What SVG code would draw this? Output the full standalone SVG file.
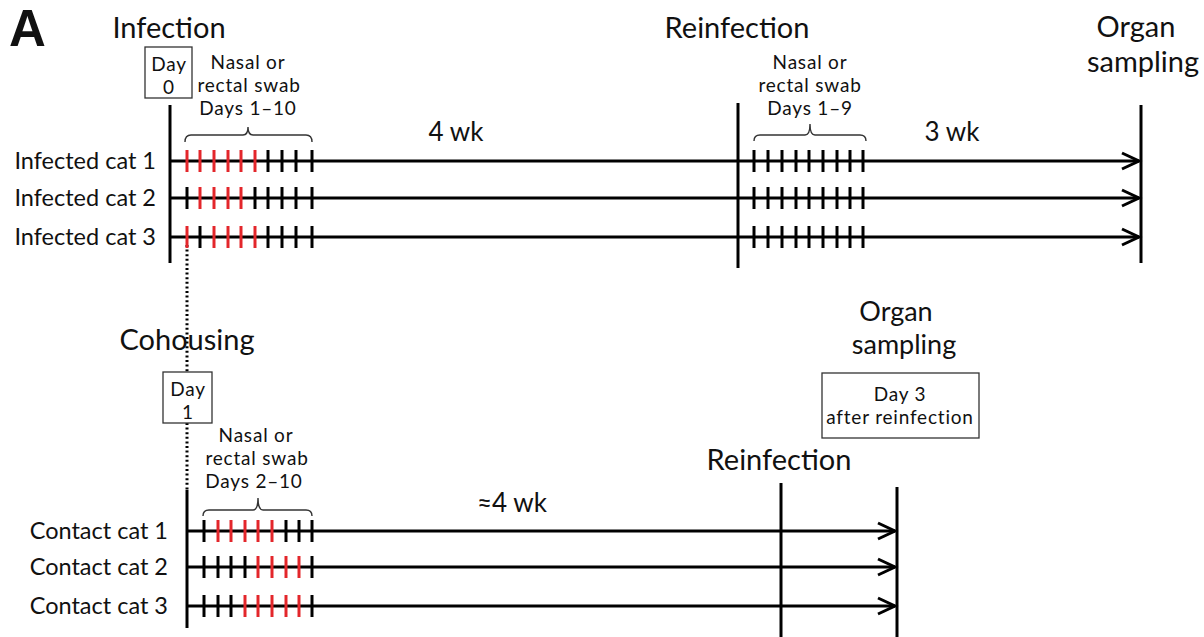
<svg xmlns="http://www.w3.org/2000/svg" width="1204" height="637" viewBox="0 0 1204 637">
<defs>
<style>
text{font-family:Lato,"Liberation Sans",sans-serif;fill:#111}
.big{font-size:29px}
.med{font-size:23.5px}
.sm{font-size:19px;letter-spacing:0.8px}
.wk{font-size:26px}
.c{text-anchor:middle}
.r{text-anchor:end}
.ln{stroke:#000;stroke-width:3;fill:none}
.tk{stroke:#000;stroke-width:3}
.rd{stroke:#e3262b;stroke-width:3}
.br{stroke:#333;stroke-width:1.4;fill:none}
.box{fill:#fff;stroke:#333;stroke-width:1.3}
.dot{stroke:#000;stroke-width:3;stroke-dasharray:2 2.6;fill:none}
</style>
<marker id="arr" markerUnits="userSpaceOnUse" markerWidth="24" markerHeight="22" refX="19" refY="10" orient="auto">
<path d="M2,2 L19,10 L2,18" fill="none" stroke="#000" stroke-width="3"/>
</marker>
</defs>
<rect width="1204" height="637" fill="#fff"/>
<text x="9" y="46" style="font-family:'Liberation Sans',Arial,sans-serif;font-weight:bold;font-size:51px">A</text>

<g id="connectors">
<line class="dot" x1="187" y1="245" x2="187" y2="372"/>
<line class="dot" x1="187" y1="423" x2="187" y2="490"/>
<line class="ln" x1="170" y1="161" x2="1139" y2="161" marker-end="url(#arr)"/>
<line class="ln" x1="170" y1="198" x2="1139" y2="198" marker-end="url(#arr)"/>
<line class="ln" x1="170" y1="237" x2="1139" y2="237" marker-end="url(#arr)"/>
<line class="ln" x1="187" y1="531" x2="895" y2="531" marker-end="url(#arr)"/>
<line class="ln" x1="187" y1="567" x2="895" y2="567" marker-end="url(#arr)"/>
<line class="ln" x1="187" y1="606" x2="895" y2="606" marker-end="url(#arr)"/>
</g>

<g id="infection">
<text class="big c" x="169" y="38">Infection</text>
<rect class="box" x="145" y="47" width="47" height="51"/>
<text class="sm c" x="169" y="71">Day</text>
<text class="sm c" x="169" y="94">0</text>
<line class="ln" x1="170" y1="105" x2="170" y2="263"/>
</g>

<g id="swab1">
<text class="sm c" x="248" y="69">Nasal or</text>
<text class="sm c" x="249" y="92">rectal swab</text>
<text class="sm c" x="248" y="115">Days 1–10</text>
<path class="br" d="M185,142 Q185,135 191,135 H243 Q248,135 248,127 Q248,135 253,135 H306 Q312,135 312,142"/>
</g>

<g id="infected-labels">
<text class="med r" x="156" y="169">Infected cat 1</text>
<text class="med r" x="156" y="206">Infected cat 2</text>
<text class="med r" x="156" y="245">Infected cat 3</text>
</g>

<g id="ticks-infected">
<g transform="translate(0,161)">
<line class="rd" x1="187" y1="-11" x2="187" y2="11"/>
<line class="rd" x1="200" y1="-11" x2="200" y2="11"/>
<line class="rd" x1="214" y1="-11" x2="214" y2="11"/>
<line class="rd" x1="228" y1="-11" x2="228" y2="11"/>
<line class="rd" x1="241" y1="-11" x2="241" y2="11"/>
<line class="rd" x1="255" y1="-11" x2="255" y2="11"/>
<line class="tk" x1="268" y1="-11" x2="268" y2="11"/>
<line class="tk" x1="282" y1="-11" x2="282" y2="11"/>
<line class="tk" x1="296" y1="-11" x2="296" y2="11"/>
<line class="tk" x1="312" y1="-11" x2="312" y2="11"/>
</g>
<g transform="translate(0,198)">
<line class="tk" x1="187" y1="-11" x2="187" y2="11"/>
<line class="rd" x1="200" y1="-11" x2="200" y2="11"/>
<line class="rd" x1="214" y1="-11" x2="214" y2="11"/>
<line class="rd" x1="228" y1="-11" x2="228" y2="11"/>
<line class="rd" x1="241" y1="-11" x2="241" y2="11"/>
<line class="tk" x1="255" y1="-11" x2="255" y2="11"/>
<line class="tk" x1="268" y1="-11" x2="268" y2="11"/>
<line class="tk" x1="282" y1="-11" x2="282" y2="11"/>
<line class="tk" x1="296" y1="-11" x2="296" y2="11"/>
<line class="tk" x1="312" y1="-11" x2="312" y2="11"/>
</g>
<g transform="translate(0,237)">
<line class="rd" x1="187" y1="-11" x2="187" y2="11"/>
<line class="tk" x1="200" y1="-11" x2="200" y2="11"/>
<line class="rd" x1="214" y1="-11" x2="214" y2="11"/>
<line class="rd" x1="228" y1="-11" x2="228" y2="11"/>
<line class="rd" x1="241" y1="-11" x2="241" y2="11"/>
<line class="rd" x1="255" y1="-11" x2="255" y2="11"/>
<line class="tk" x1="268" y1="-11" x2="268" y2="11"/>
<line class="tk" x1="282" y1="-11" x2="282" y2="11"/>
<line class="tk" x1="296" y1="-11" x2="296" y2="11"/>
<line class="tk" x1="312" y1="-11" x2="312" y2="11"/>
</g>
</g>

<text class="wk c" x="456" y="141">4 wk</text>

<g id="reinfection-top">
<text class="big c" x="737" y="38">Reinfection</text>
<line class="ln" x1="738" y1="103" x2="738" y2="268"/>
<text class="sm c" x="810" y="69">Nasal or</text>
<text class="sm c" x="810" y="92">rectal swab</text>
<text class="sm c" x="810" y="115">Days 1–9</text>
<path class="br" d="M754,141 Q754,135 760,135 H805 Q810,135 810,124 Q810,135 815,135 H860 Q866,135 866,141"/>
</g>

<g id="ticks-reinf">
<g transform="translate(0,161)">
<line class="tk" x1="754" y1="-11" x2="754" y2="11"/><line class="tk" x1="768" y1="-11" x2="768" y2="11"/><line class="tk" x1="782" y1="-11" x2="782" y2="11"/><line class="tk" x1="796" y1="-11" x2="796" y2="11"/><line class="tk" x1="809" y1="-11" x2="809" y2="11"/><line class="tk" x1="823" y1="-11" x2="823" y2="11"/><line class="tk" x1="837" y1="-11" x2="837" y2="11"/><line class="tk" x1="850" y1="-11" x2="850" y2="11"/><line class="tk" x1="863" y1="-11" x2="863" y2="11"/>
</g>
<g transform="translate(0,198)">
<line class="tk" x1="754" y1="-11" x2="754" y2="11"/><line class="tk" x1="768" y1="-11" x2="768" y2="11"/><line class="tk" x1="782" y1="-11" x2="782" y2="11"/><line class="tk" x1="796" y1="-11" x2="796" y2="11"/><line class="tk" x1="809" y1="-11" x2="809" y2="11"/><line class="tk" x1="823" y1="-11" x2="823" y2="11"/><line class="tk" x1="837" y1="-11" x2="837" y2="11"/><line class="tk" x1="850" y1="-11" x2="850" y2="11"/><line class="tk" x1="863" y1="-11" x2="863" y2="11"/>
</g>
<g transform="translate(0,237)">
<line class="tk" x1="754" y1="-11" x2="754" y2="11"/><line class="tk" x1="768" y1="-11" x2="768" y2="11"/><line class="tk" x1="782" y1="-11" x2="782" y2="11"/><line class="tk" x1="796" y1="-11" x2="796" y2="11"/><line class="tk" x1="809" y1="-11" x2="809" y2="11"/><line class="tk" x1="823" y1="-11" x2="823" y2="11"/><line class="tk" x1="837" y1="-11" x2="837" y2="11"/><line class="tk" x1="850" y1="-11" x2="850" y2="11"/><line class="tk" x1="863" y1="-11" x2="863" y2="11"/>
</g>
</g>

<text class="wk c" x="952" y="141">3 wk</text>

<g id="organ-top">
<text class="big c" x="1136" y="37">Organ</text>
<text class="big c" x="1143" y="72">sampling</text>
<line class="ln" x1="1141" y1="105" x2="1141" y2="263"/>
</g>

<g id="cohousing">
<text class="big c" x="187" y="350">Cohousing</text>
<rect class="box" x="163" y="372" width="49" height="51"/>
<text class="sm c" x="188" y="396">Day</text>
<text class="sm c" x="188" y="419">1</text>
<line class="ln" x1="187" y1="490" x2="187" y2="628"/>
</g>

<g id="swab2">
<text class="sm c" x="256" y="442">Nasal or</text>
<text class="sm c" x="257" y="465">rectal swab</text>
<text class="sm c" x="254" y="488">Days 2–10</text>
<path class="br" d="M203,516 Q203,510 209,510 H253 Q258,510 258,498 Q258,510 263,510 H306 Q312,510 312,516"/>
</g>

<g id="contact-labels">
<text class="med r" x="168" y="539">Contact cat 1</text>
<text class="med r" x="168" y="575">Contact cat 2</text>
<text class="med r" x="168" y="614">Contact cat 3</text>
</g>

<g id="ticks-contact">
<g transform="translate(0,531)">
<line class="tk" x1="204" y1="-11" x2="204" y2="11"/>
<line class="rd" x1="218" y1="-11" x2="218" y2="11"/>
<line class="rd" x1="231" y1="-11" x2="231" y2="11"/>
<line class="rd" x1="245" y1="-11" x2="245" y2="11"/>
<line class="rd" x1="258" y1="-11" x2="258" y2="11"/>
<line class="rd" x1="272" y1="-11" x2="272" y2="11"/>
<line class="tk" x1="286" y1="-11" x2="286" y2="11"/>
<line class="tk" x1="299" y1="-11" x2="299" y2="11"/>
<line class="tk" x1="312" y1="-11" x2="312" y2="11"/>
</g>
<g transform="translate(0,567)">
<line class="tk" x1="204" y1="-11" x2="204" y2="11"/>
<line class="tk" x1="218" y1="-11" x2="218" y2="11"/>
<line class="tk" x1="231" y1="-11" x2="231" y2="11"/>
<line class="tk" x1="245" y1="-11" x2="245" y2="11"/>
<line class="rd" x1="258" y1="-11" x2="258" y2="11"/>
<line class="rd" x1="272" y1="-11" x2="272" y2="11"/>
<line class="rd" x1="286" y1="-11" x2="286" y2="11"/>
<line class="rd" x1="299" y1="-11" x2="299" y2="11"/>
<line class="tk" x1="312" y1="-11" x2="312" y2="11"/>
</g>
<g transform="translate(0,606)">
<line class="tk" x1="204" y1="-11" x2="204" y2="11"/>
<line class="tk" x1="218" y1="-11" x2="218" y2="11"/>
<line class="tk" x1="231" y1="-11" x2="231" y2="11"/>
<line class="rd" x1="245" y1="-11" x2="245" y2="11"/>
<line class="rd" x1="258" y1="-11" x2="258" y2="11"/>
<line class="rd" x1="272" y1="-11" x2="272" y2="11"/>
<line class="rd" x1="286" y1="-11" x2="286" y2="11"/>
<line class="rd" x1="299" y1="-11" x2="299" y2="11"/>
<line class="tk" x1="312" y1="-11" x2="312" y2="11"/>
</g>
</g>

<text class="wk c" x="512" y="512">≈4 wk</text>

<g id="reinfection-bottom">
<text class="big c" x="779" y="470">Reinfection</text>
<line class="ln" x1="781" y1="483" x2="781" y2="637"/>
</g>

<g id="organ-bottom">
<text class="c" style="font-size:27px" x="896" y="321">Organ</text>
<text class="c" style="font-size:27px" x="904" y="354">sampling</text>
<rect class="box" x="822" y="373" width="157" height="65"/>
<text class="sm c" x="900" y="401">Day 3</text>
<text class="sm c" x="900" y="424">after reinfection</text>
<line class="ln" x1="897" y1="487" x2="897" y2="637"/>
</g>
</svg>
